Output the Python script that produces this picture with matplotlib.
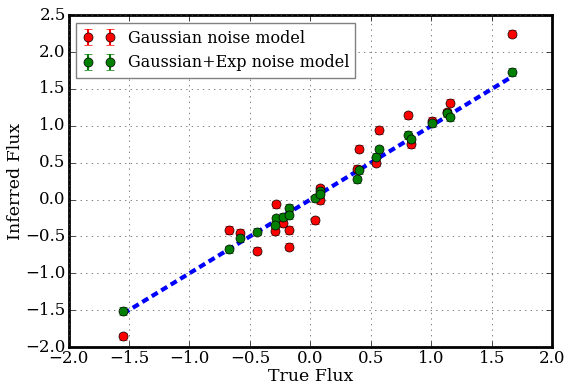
import numpy as np
import matplotlib
matplotlib.use("Agg")
import matplotlib.pyplot as plt

plt.style.use('classic')
plt.rcParams['font.family'] = 'DejaVu Serif'
plt.rcParams['figure.facecolor'] = 'white'
plt.rcParams['savefig.facecolor'] = 'white'
plt.rcParams['axes.linewidth'] = 2

# true flux, shared by both models
true_flux = [-1.547, -0.673, -0.58, -0.445, -0.283, -0.29, -0.23, -0.178, -0.178,
             0.040, 0.075, 0.081, 0.382, 0.403, 0.541, 0.564, 0.803, 0.831,
             1.004, 1.131, 1.155, 1.663]
gauss = [-1.854, -0.413, -0.45, -0.694, -0.065, -0.43, -0.318, -0.413, -0.64,
         -0.282, 0.15, -0.007, 0.42, 0.69, 0.50, 0.94, 1.14, 0.75,
         1.068, 1.18, 1.312, 2.247]
gauss_exp = [-1.51, -0.675, -0.526, -0.436, -0.255, -0.34, -0.233, -0.111, -0.215,
             0.016, 0.12, 0.08, 0.275, 0.40, 0.58, 0.68, 0.874, 0.816,
             1.032, 1.168, 1.114, 1.728]
err = [0.05] * len(true_flux)

fit_slope = 1.0
fit_intercept = 0.0

fig = plt.figure(figsize=(5.68, 3.85), dpi=100)
ax = fig.add_axes([0.1206, 0.0987, 0.852, 0.862])

ax.errorbar(true_flux, gauss, yerr=err, fmt='o', color='red', mec='black',
            ms=6.5, capsize=3, elinewidth=1.5, label='Gaussian noise model')
ax.errorbar(true_flux, gauss_exp, yerr=err, fmt='o', color='green', mec='black',
            ms=6.5, capsize=3, elinewidth=1.5, label='Gaussian+Exp noise model')

xl = np.array([min(true_flux), max(true_flux)])
ax.plot(xl, fit_slope * xl + fit_intercept, color='blue', lw=3, ls='--', dashes=(5, 3))

ax.set_xlim(-2, 2)
ax.set_ylim(-2, 2.5)
ax.set_xticks(np.arange(-2, 2.01, 0.5))
ax.set_yticks(np.arange(-2, 2.51, 0.5))
ax.tick_params(labelsize=12, pad=2)
ax.grid(True, color='0.3')
ax.set_xlabel('True Flux', fontsize=12.5, labelpad=1)
ax.set_ylabel('Inferred Flux', fontsize=12.5, labelpad=1)

leg = ax.legend(loc='upper left', numpoints=2, fontsize=11.5, borderaxespad=0.5)
leg.get_frame().set_edgecolor('0.5')

fig.savefig('out.png', dpi=100)
